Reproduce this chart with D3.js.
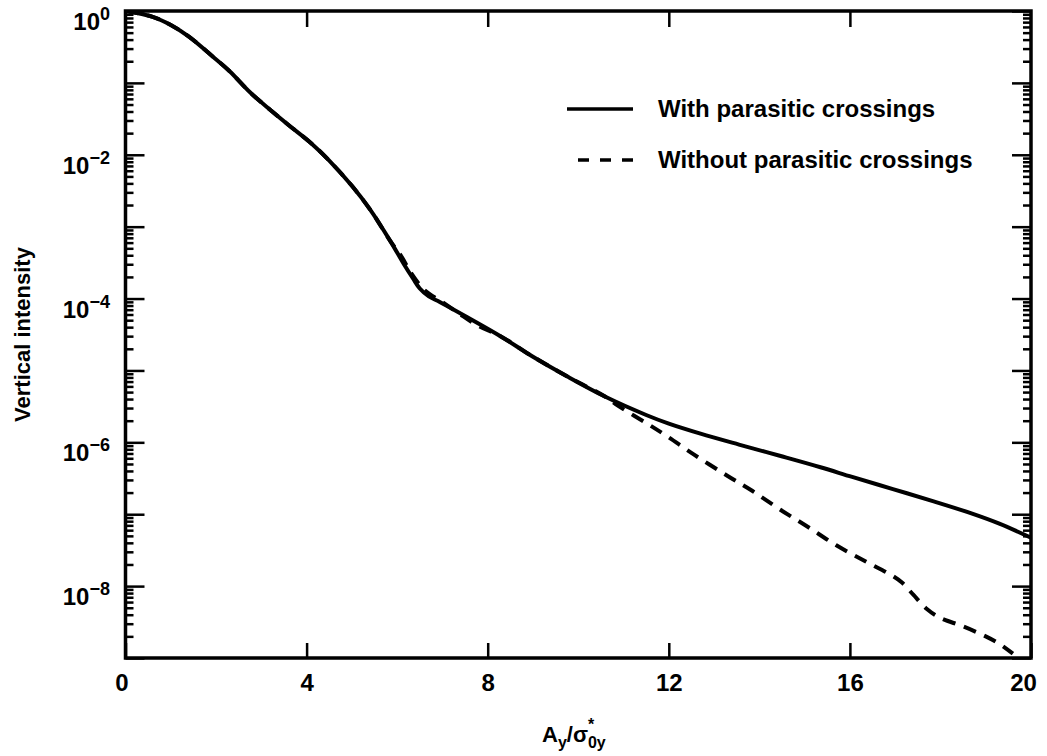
<!DOCTYPE html>
<html lang="en">
<head>
  <meta charset="UTF-8" />
  <title>Vertical intensity</title>
  <script src="https://d3js.org/d3.v7.min.js"></script>
  <style>
    body { margin: 0; background: #fff; }
    svg { display: block; }
    text { font-family: "Liberation Sans", Arial, sans-serif; font-weight: bold; fill: #000; }
  </style>
</head>
<body>
  <svg id="chart" width="1047" height="756"></svg>

  <script>
    // A_y / sigma*_0y values and vertical intensity
    const withX = [0, 0.6, 1.0, 1.4, 1.9, 2.3, 2.75, 3.2, 3.6, 4.1, 4.5, 5.0, 5.4, 5.85, 6.15, 6.35, 6.5, 6.7,
      6.95, 7.55, 8.3, 9.0, 9.75, 10.6, 11.5, 12.0, 12.7, 13.55, 14.45, 15.35, 16.05, 16.95, 17.85, 18.7, 19.3, 20.0];
    const withY = [1.0, 0.83, 0.64, 0.44, 0.24, 0.145, 7.4e-2, 4.2e-2, 2.6e-2, 1.45e-2, 8.3e-3, 3.7e-3, 1.74e-3, 6.3e-4, 3.0e-4, 1.9e-4, 1.38e-4, 1.07e-4,
      8.9e-5, 5.5e-5, 2.95e-5, 1.55e-5, 8.3e-6, 4.3e-6, 2.4e-6, 1.82e-6, 1.32e-6, 9.3e-7, 6.5e-7, 4.5e-7, 3.3e-7, 2.24e-7, 1.51e-7, 1.02e-7, 7.4e-8, 4.7e-8];

    const withoutX = [0, 0.6, 1.0, 1.4, 1.9, 2.3, 2.75, 3.2, 3.6, 4.1, 4.5, 5.0, 5.4, 5.85, 6.1, 6.3, 6.6,
      7.0, 7.35, 7.75, 8.3, 9.0, 9.75, 10.6, 10.9, 11.5, 11.95, 12.55, 13.3, 13.85, 14.45, 15.05, 15.7, 16.35,
      16.95, 17.15, 17.4, 17.7, 18.0, 18.5, 19.0, 19.3, 19.6];
    const withoutY = [1.0, 0.83, 0.64, 0.44, 0.24, 0.145, 7.4e-2, 4.2e-2, 2.6e-2, 1.45e-2, 8.3e-3, 3.7e-3, 1.74e-3, 6.3e-4, 3.8e-4, 2.3e-4, 1.32e-4,
      8.9e-5, 6.3e-5, 4.3e-5, 2.95e-5, 1.55e-5, 8.3e-6, 4.3e-6, 3.16e-6, 1.86e-6, 1.23e-6, 6.8e-7, 3.4e-7, 2.1e-7, 1.17e-7, 6.8e-8, 3.7e-8, 2.2e-8,
      1.38e-8, 1.12e-8, 7.6e-9, 4.8e-9, 3.6e-9, 2.75e-9, 2.0e-9, 1.58e-9, 1.15e-9];

    const xTicks = [0, 4, 8, 12, 16, 20];
    const yMajorTicks = [1, 1e-1, 1e-2, 1e-3, 1e-4, 1e-5, 1e-6, 1e-7, 1e-8, 1e-9];
    const yLabelExps = [0, -2, -4, -6, -8];
    const seriesNames = ["With parasitic crossings", "Without parasitic crossings"];

    const svg = d3.select("#chart");
    const width = +svg.attr("width");
    const height = +svg.attr("height");
    const margin = { top: 11, right: 16, bottom: 98, left: 125.5 };
    const x0 = margin.left, x1 = width - margin.right;
    const y0 = height - margin.bottom, y1 = margin.top;

    const x = d3.scaleLinear().domain([0, 20]).range([x0, x1]);
    const y = d3.scaleLog().domain([1e-9, 1]).range([y0, y1]);

    svg.append("rect").attr("width", width).attr("height", height).attr("fill", "#fff");

    svg.append("clipPath").attr("id", "plot-clip")
      .append("rect")
      .attr("x", x0).attr("y", y1)
      .attr("width", x1 - x0).attr("height", y0 - y1);

    // ticks on all four sides, pointing inwards
    const minorTicks = y.ticks().filter(v => !yMajorTicks.some(m => Math.abs(m - v) / m < 1e-6));

    function styleTicks(g) {
      g.select(".domain").remove();
      g.selectAll(".tick line").attr("stroke", "#000").attr("stroke-width", 2.5);
    }

    svg.append("g").attr("transform", `translate(${x0},0)`)
      .call(d3.axisLeft(y).tickValues(yMajorTicks).tickSize(-19).tickFormat(""))
      .call(styleTicks);
    svg.append("g").attr("transform", `translate(${x0},0)`)
      .call(d3.axisLeft(y).tickValues(minorTicks).tickSize(-8).tickFormat(""))
      .call(styleTicks);
    svg.append("g").attr("transform", `translate(${x1},0)`)
      .call(d3.axisRight(y).tickValues(yMajorTicks).tickSize(-19).tickFormat(""))
      .call(styleTicks);
    svg.append("g").attr("transform", `translate(${x1},0)`)
      .call(d3.axisRight(y).tickValues(minorTicks).tickSize(-8).tickFormat(""))
      .call(styleTicks);

    const bottomAxis = svg.append("g").attr("transform", `translate(0,${y0})`)
      .call(d3.axisBottom(x).tickValues(xTicks).tickSize(-15).tickFormat(d3.format("d")))
      .call(styleTicks);
    bottomAxis.selectAll(".tick text")
      .attr("y", 33).attr("dy", null)
      .attr("dx", d => d === 0 ? -4 : d === 20 ? -8 : 0)
      .style("font-size", "24px")
      .attr("font-family", null);

    svg.append("g").attr("transform", `translate(0,${y1})`)
      .call(d3.axisTop(x).tickValues(xTicks.slice(1, -1)).tickSize(-16).tickFormat(""))
      .call(styleTicks);

    // y tick labels as 10 with superscript exponent
    yLabelExps.forEach(e => {
      const ty = y(Math.pow(10, e));
      const t = svg.append("text")
        .attr("x", 110).attr("y", ty + 19)
        .attr("text-anchor", "end");
      t.append("tspan").style("font-size", "24px").text("10");
      t.append("tspan").style("font-size", "18px").attr("dy", -10)
        .text(e === 0 ? "0" : "\u2212" + Math.abs(e));
    });

    // curves
    const line = d3.line()
      .x(d => x(d[0]))
      .y(d => y(d[1]))
      .curve(d3.curveCatmullRom.alpha(0.5));

    const withData = withX.map((v, i) => [v, withY[i]]);
    const withoutData = withoutX.map((v, i) => [v, withoutY[i]]);

    const plot = svg.append("g").attr("clip-path", "url(#plot-clip)");
    plot.append("path").datum(withoutData)
      .attr("fill", "none").attr("stroke", "#000")
      .attr("stroke-width", 4).attr("stroke-dasharray", "13,9")
      .attr("d", line);
    plot.append("path").datum(withData)
      .attr("fill", "none").attr("stroke", "#000")
      .attr("stroke-width", 4)
      .attr("d", line);

    // frame
    svg.append("rect")
      .attr("x", x0).attr("y", y1)
      .attr("width", x1 - x0).attr("height", y0 - y1)
      .attr("fill", "none").attr("stroke", "#000").attr("stroke-width", 3.5);

    // legend
    const legend = svg.append("g");
    const legendRows = [
      { name: seriesNames[0], ly: 109, dash: null },
      { name: seriesNames[1], ly: 160, dash: "11,11" }
    ];
    legendRows.forEach(r => {
      legend.append("path")
        .attr("d", `M633,${r.ly}L567,${r.ly}`)
        .attr("stroke", "#000").attr("stroke-width", 3.5)
        .attr("stroke-dasharray", r.dash);
      legend.append("text")
        .attr("x", 658).attr("y", r.ly + 8)
        .style("font-size", "24px")
        .text(r.name);
    });

    // axis titles
    svg.append("text")
      .attr("transform", `translate(30,${(y0 + y1) / 2}) rotate(-90)`)
      .attr("text-anchor", "middle")
      .style("font-size", "22px")
      .text("Vertical intensity");

    const xt = svg.append("text")
      .attr("x", 542).attr("y", 742)
      .style("font-size", "22px");
    xt.append("tspan").text("A");
    xt.append("tspan").style("font-size", "16px").attr("dy", 6).text("y");
    xt.append("tspan").attr("dy", -6).text("/\u03c3");
    const star = xt.append("tspan").style("font-size", "16px").attr("dy", -12).text("*");
    const starW = star.node().getComputedTextLength();
    xt.append("tspan").style("font-size", "16px").attr("dy", 18).attr("dx", -starW).text("0y");
  </script>
</body>
</html>
